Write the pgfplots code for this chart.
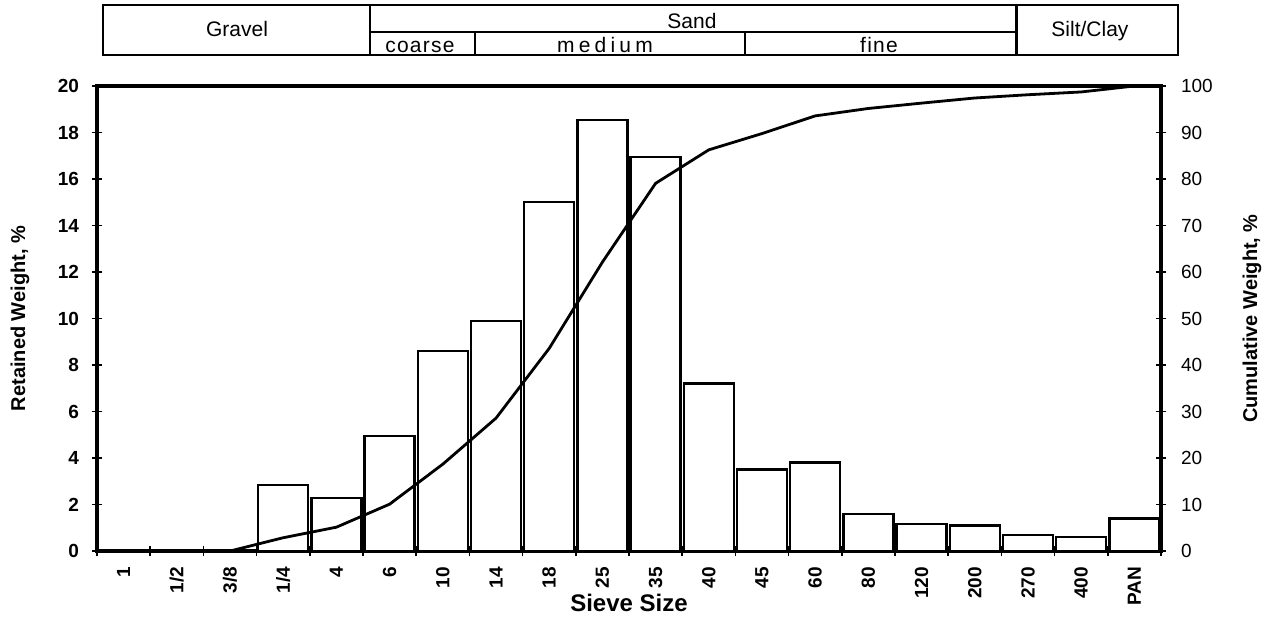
\documentclass[border=0pt]{standalone}
\usepackage{fontspec}
\setmainfont{Liberation Sans}
\usepackage{pgfplots}
\usepackage{pgfplotstable}
\pgfplotsset{compat=1.18}

\pgfplotstableread{
x y c
0 0 0
1 0 0
2 0 0
3 2.85 2.85
4 2.27 5.12
5 4.95 10.07
6 8.6 18.67
7 9.9 28.57
8 15.0 43.57
9 18.55 62.12
10 16.95 79.07
11 7.2 86.27
12 3.5 89.77
13 3.8 93.57
14 1.6 95.17
15 1.15 96.32
16 1.1 97.42
17 0.7 98.12
18 0.6 98.72
19 1.4 100
}\data

\newcommand\tk{\fontsize{9.5}{11}\selectfont}
\newcommand\tb{\fontsize{10.5}{12}\selectfont}

\begin{document}
\begin{tikzpicture}
\useasboundingbox (-48.5pt,-33pt) rectangle (589pt,275.5pt);
\begin{axis}[
  scale only axis, width=532pt, height=232.5pt,
  xmin=-0.5, xmax=19.5, ymin=0, ymax=20,
  clip=false,
  axis line style={line width=1.6pt},
  xtick={0,...,19},
  xticklabels={1,1/2,3/8,1/4,4,6,10,14,18,25,35,40,45,60,80,120,200,270,400,PAN},
  minor xtick={-0.5,0.5,...,19.5},
  major x tick style={draw=none},
  minor x tick style={line width=0.8pt, black},
  minor tick length=5pt,
  major tick length=5pt,
  tick align=center,
  xtick pos=bottom, ytick pos=left,
  ytick={0,2,...,20},
  y tick style={line width=0.8pt, black},
  xticklabel style={rotate=90, anchor=east, font=\tk\bfseries},
  xticklabel shift=2pt,
  yticklabel style={font=\tk\bfseries},
  yticklabel shift=3pt,
  /pgf/number format/assume math mode=true,
  xlabel={Sieve Size},
  xlabel style={at={(axis description cs:0.5,-0.112)}, anchor=center, font=\fontsize{12}{14}\selectfont\bfseries},
  ylabel={Retained Weight, \%},
  ylabel style={at={(axis description cs:-0.0724,0.5)}, anchor=center, rotate=0, font=\fontsize{10}{12}\selectfont\bfseries},
]
\addplot[ybar, bar width=0.94, fill=white, draw=black, line width=1.2pt] table[x=x,y=y]{\data};

% header table
\draw[line width=1.4pt] (axis cs:-0.387,23.48) rectangle (axis cs:19.82,21.33);
\draw[line width=1.4pt] (axis cs:4.632,23.48) -- (axis cs:4.632,21.33);
\draw[line width=1.4pt] (axis cs:16.79,23.48) -- (axis cs:16.79,21.33);
\draw[line width=1.4pt] (axis cs:4.632,22.32) -- (axis cs:16.79,22.32);
\draw[line width=1.4pt] (axis cs:6.605,22.32) -- (axis cs:6.605,21.33);
\draw[line width=1.4pt] (axis cs:11.68,22.32) -- (axis cs:11.68,21.33);
\node[anchor=base, inner sep=0pt, font=\tb] at (axis cs:2.132,22.11) {Gravel};
\node[anchor=base, inner sep=0pt, font=\tb] at (axis cs:10.684,22.49) {Sand};
\node[anchor=base, inner sep=0pt, font=\tb] at (axis cs:18.165,22.12) {Silt/Clay};
\node[anchor=base, inner sep=0pt, font=\tb] at (axis cs:5.571,21.44) {\addfontfeatures{LetterSpace=6}coarse};
\node[anchor=base, inner sep=0pt, font=\tb] at (axis cs:9.049,21.46) {\addfontfeatures{LetterSpace=20}medium};
\node[anchor=base, inner sep=0pt, font=\tb] at (axis cs:14.20,21.44) {\addfontfeatures{LetterSpace=6}fine};
\end{axis}

\begin{axis}[
  scale only axis, width=532pt, height=232.5pt,
  xmin=-0.5, xmax=19.5, ymin=0, ymax=100,
  axis y line*=right, axis x line=none,
  axis line style={line width=1.6pt},
  ytick={0,10,...,100},
  major tick length=5pt, tick align=center,
  y tick style={line width=0.8pt, black},
  yticklabel style={font=\tk},
  yticklabel shift=4pt,
  /pgf/number format/assume math mode=true,
  ylabel={Cumulative Weight, \%},
  ylabel style={at={(axis description cs:1.0855,0.5)}, anchor=center, rotate=0, font=\fontsize{10}{12}\selectfont\bfseries},
]
\addplot[black, line width=1.4pt, mark=none] table[x=x,y=c]{\data};
\end{axis}
\end{tikzpicture}
\end{document}
